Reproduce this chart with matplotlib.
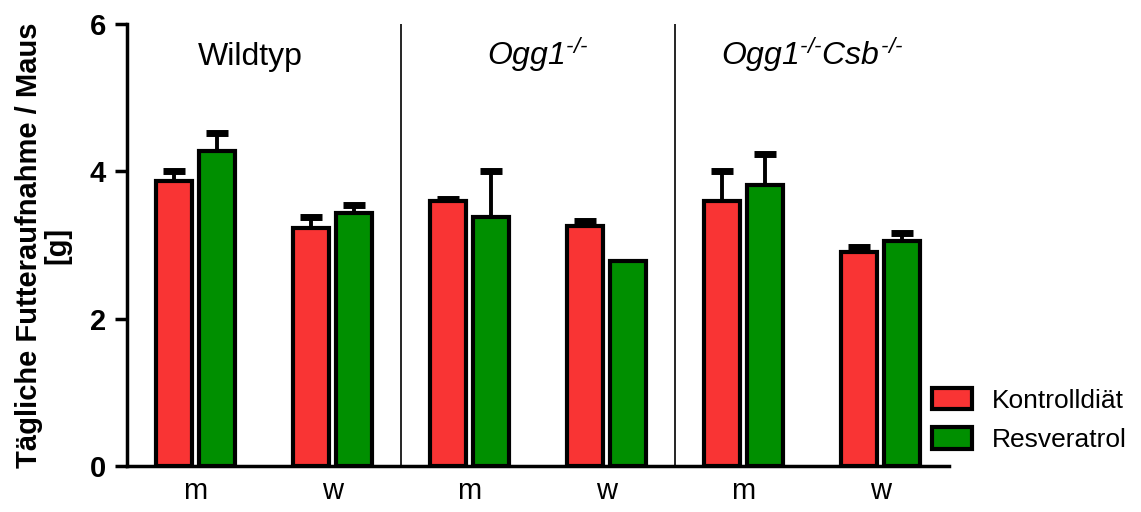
import numpy as np
import matplotlib
matplotlib.use("Agg")
import matplotlib.pyplot as plt
from matplotlib.patches import Patch

plt.rcParams['font.family'] = ['Liberation Sans', 'DejaVu Sans']
# mathtext is only used for the italic genotype labels
plt.rcParams['mathtext.fontset'] = 'custom'
plt.rcParams['mathtext.rm'] = 'Liberation Sans:italic'
plt.rcParams['mathtext.it'] = 'Liberation Sans:italic'

# daily food intake per mouse [g], mean and upper SEM
sexes = ['m', 'w', 'm', 'w', 'm', 'w']
groups = ['Wildtyp', r'$Ogg1^{\text{-/-}}$',
          r'$Ogg1^{\text{-/-}}Csb^{\text{-/-}}$']
kontroll = [3.87, 3.23, 3.60, 3.26, 3.60, 2.91]
kontroll_err = [0.13, 0.15, 0.02, 0.06, 0.40, 0.06]
resv = [4.28, 3.43, 3.38, 2.78, 3.81, 3.05]
resv_err = [0.24, 0.11, 0.62, 0.0, 0.42, 0.11]

red = '#f93434'
green = '#008f00'

fig = plt.figure(figsize=(11.41, 5.12), dpi=100)
ax = fig.add_axes([0.1113, 0.0898, 0.7204, 0.8632])

x = np.arange(len(sexes))
w = 0.26
off = 0.155


def bars(xpos, vals, errs, col):
    ax.bar(xpos, vals, w, color=col, edgecolor='black', linewidth=3, zorder=3)
    errs = np.array(errs, dtype=float)
    errs[errs <= 0] = np.nan  # no whisker where there is no error
    _, caps, _ = ax.errorbar(xpos, vals, yerr=[np.zeros(len(vals)), errs],
                             fmt='none', ecolor='black', elinewidth=2.8,
                             capsize=8, capthick=5, zorder=2)
    caps[0].set_visible(False)  # only the upper cap


bars(x - off, kontroll, kontroll_err, red)
bars(x + off, resv, resv_err, green)

# separators between genotypes
for sx in [1.5, 3.5]:
    ax.axvline(sx, color='black', linewidth=1.2, zorder=1)

for i, g in enumerate(groups):
    cx = 2 * i + 0.5
    if i == 0:
        cx -= 0.1
    ax.text(cx, 5.44, g, ha='center', va='baseline', fontsize=23)

ax.set_xlim(-0.5, 5.5)
ax.set_ylim(0, 6)
ax.set_yticks([0, 2, 4, 6])
ax.set_xticks(x)
ax.set_xticklabels(sexes, fontsize=21)
ax.tick_params(axis='x', length=0, pad=8)
ax.tick_params(axis='y', length=9, width=2.5, labelsize=21, pad=6)
for lab in ax.get_yticklabels():
    lab.set_fontweight('bold')
ax.spines['top'].set_visible(False)
ax.spines['right'].set_visible(False)
ax.spines['left'].set_linewidth(2.5)
ax.spines['bottom'].set_linewidth(2.5)
ax.set_ylabel('Tägliche Futteraufnahme / Maus\n[g]', fontsize=21,
              fontweight='bold', labelpad=13, linespacing=1.05)

handles = [Patch(facecolor=red, edgecolor='black', linewidth=3, label='Kontrolldiät'),
           Patch(facecolor=green, edgecolor='black', linewidth=3, label='Resveratrol')]
fig.legend(handles=handles, loc='center left', bbox_to_anchor=(0.817, 0.18),
           frameon=False, fontsize=19, handlelength=1.5, handleheight=0.9,
           handletextpad=0.75, labelspacing=0.55, borderpad=0, borderaxespad=0)

fig.savefig('out.png', dpi=100)
